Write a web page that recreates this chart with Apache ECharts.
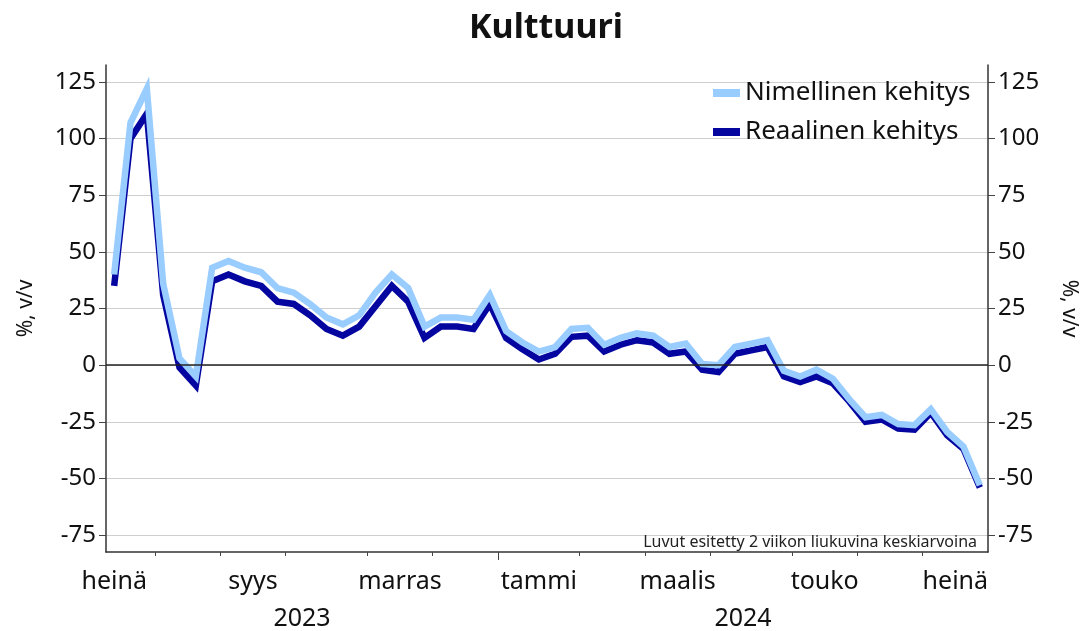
<!DOCTYPE html>
<html>
<head>
<meta charset="utf-8">
<script src="https://cdn.jsdelivr.net/npm/echarts@6/dist/echarts.min.js"></script>
<style>
html,body{margin:0;padding:0;background:#fff;}
#chart{width:1082px;height:631px;}
</style>
</head>
<body>
<div id="chart"></div>
<script>
// Weekly categories (ISO weeks)
const weeks = [
 '2023-W29','2023-W30','2023-W31','2023-W32','2023-W33','2023-W34','2023-W35','2023-W36',
 '2023-W37','2023-W38','2023-W39','2023-W40','2023-W41','2023-W42','2023-W43','2023-W44',
 '2023-W45','2023-W46','2023-W47','2023-W48','2023-W49','2023-W50','2023-W51','2023-W52',
 '2024-W01','2024-W02','2024-W03','2024-W04','2024-W05','2024-W06','2024-W07','2024-W08',
 '2024-W09','2024-W10','2024-W11','2024-W12','2024-W13','2024-W14','2024-W15','2024-W16',
 '2024-W17','2024-W18','2024-W19','2024-W20','2024-W21','2024-W22','2024-W23','2024-W24',
 '2024-W25','2024-W26','2024-W27','2024-W28','2024-W29','2024-W30'
];
const nimellinen = [40,107,122,36,3,-5,43,46,43,41,34,32,27,21,18,22,32,40,34,17,21,21,20,31,15,10,6,8,16,16.5,9,12,14,13,8,9.5,0.5,0,8,9.5,11,-2.5,-5,-2,-6,-15,-23,-22,-26,-26.5,-19.5,-29.5,-36,-53];
const reaalinen = [35,100,111,31,-1,-9,37,40,37,35,28,27,22,16,13,17,26,35,28,12,17,17,16,27,12,7,2.5,5,12.5,13,6,9,11,10,5,6,-2,-3,5,6.5,8,-5,-7.5,-5,-8,-16,-25,-24,-28,-28.5,-21,-31,-37,-54];

const monthLabels = ['heinä','syys','marras','tammi','maalis','touko','heinä'];
const monthLabelPos = [0, 8.5, 17.5, 26, 34.5, 43.5, 51.5];
const monthTickPos = [2.5, 6.5, 10.5, 15.5, 19.5, 28.5, 32.5, 36.5, 41.5, 45.5, 49.5];
const yearLabels = ['2023','2024'];
const yearLabelPos = [11.5, 38.5];
const yearTickPos = [23.5];
const yTicks = [-75,-50,-25,0,25,50,75,100,125];

const FONT = 'Noto Sans';
const chart = echarts.init(document.getElementById('chart'), null, {renderer:'canvas'});

const posMin = -0.5, posMax = weeks.length - 0.5;
function lookup(pos, vals, labels){
  for (let i=0;i<vals.length;i++){ if (Math.abs(vals[i]-pos)<1e-6) return labels[i]; }
  return '';
}

const yAxisCommon = {
  type:'value', min:-82.5, max:132.5,
  axisLine:{show:true, onZero:false, lineStyle:{color:'#333', width:1.5}},
  axisTick:{show:true, length:7, customValues:yTicks, lineStyle:{color:'#444', width:1}},
  axisLabel:{customValues:yTicks, color:'#111', fontSize:24, fontFamily:FONT, margin:10},
  nameLocation:'middle',
  nameTextStyle:{color:'#111', fontSize:21, fontFamily:FONT}
};

const option = {
  backgroundColor:'#fff',
  animation:false,
  textStyle:{fontFamily:FONT},
  title:[
    {text:'Kulttuuri', left:464, top:6,
     textStyle:{fontSize:34, fontWeight:'bold', color:'#111', fontFamily:FONT}},
    {text:'Luvut esitetty 2 viikon liukuvina keskiarvoina', right:100, top:529,
     textStyle:{fontSize:16, fontWeight:'normal', color:'#222', fontFamily:FONT}}
  ],
  legend:{
    orient:'vertical', left:713, top:80, itemGap:13, padding:0,
    icon:'rect', itemWidth:27, itemHeight:8,
    textStyle:{fontSize:26, color:'#111', fontFamily:FONT},
    data:['Nimellinen kehitys','Reaalinen kehitys']
  },
  grid:{left:106, right:94, top:65, bottom:79, containLabel:false, outerBoundsMode:'none'},
  xAxis:[
    {type:'category', data:weeks, boundaryGap:true,
     axisLine:{show:true, onZero:false, lineStyle:{color:'#333', width:1.5}},
     axisTick:{show:false}, axisLabel:{show:false}, splitLine:{show:false}},
    {type:'value', min:posMin, max:posMax, position:'bottom',
     axisLine:{show:false, onZero:false},
     axisTick:{show:true, length:4, customValues:monthTickPos, lineStyle:{color:'#444', width:1}},
     axisLabel:{customValues:monthLabelPos, color:'#111', fontSize:25, fontFamily:FONT, margin:17,
       formatter:(v)=>lookup(v, monthLabelPos, monthLabels)},
     splitLine:{show:false}},
    {type:'value', min:posMin, max:posMax, position:'bottom',
     axisLine:{show:false, onZero:false},
     axisTick:{show:true, length:8, customValues:yearTickPos, lineStyle:{color:'#444', width:1}},
     axisLabel:{customValues:yearLabelPos, color:'#111', fontSize:25, fontFamily:FONT, margin:54,
       formatter:(v)=>lookup(v, yearLabelPos, yearLabels)},
     splitLine:{show:false}}
  ],
  yAxis:[
    Object.assign({}, yAxisCommon, {position:'left', name:'%, v/v', nameGap:69,
      splitLine:{show:true, lineStyle:{color:'#cfcfcf', width:1}}}),
    Object.assign({}, yAxisCommon, {position:'right', name:'%, v/v', nameGap:70, nameRotate:-90,
      splitLine:{show:false}})
  ],
  series:[
    {name:'zero', type:'line', data:[], xAxisIndex:0, yAxisIndex:0, z:1, silent:true,
     markLine:{silent:true, symbol:['none','none'], label:{show:false},
       lineStyle:{color:'#222', width:1.5, type:'solid'}, data:[{yAxis:0}]}},
    {name:'Nimellinen kehitys', type:'line', data:nimellinen, xAxisIndex:0, yAxisIndex:0,
     showSymbol:false, symbol:'none', z:4,
     lineStyle:{color:'#99CCFF', width:6.5, join:'miter'}, itemStyle:{color:'#99CCFF'}},
    {name:'Reaalinen kehitys', type:'line', data:reaalinen, xAxisIndex:0, yAxisIndex:0,
     showSymbol:false, symbol:'none', z:3,
     lineStyle:{color:'#0505A0', width:6.5, join:'miter'}, itemStyle:{color:'#0505A0'}}
  ]
};
chart.setOption(option);
</script>
</body>
</html>
